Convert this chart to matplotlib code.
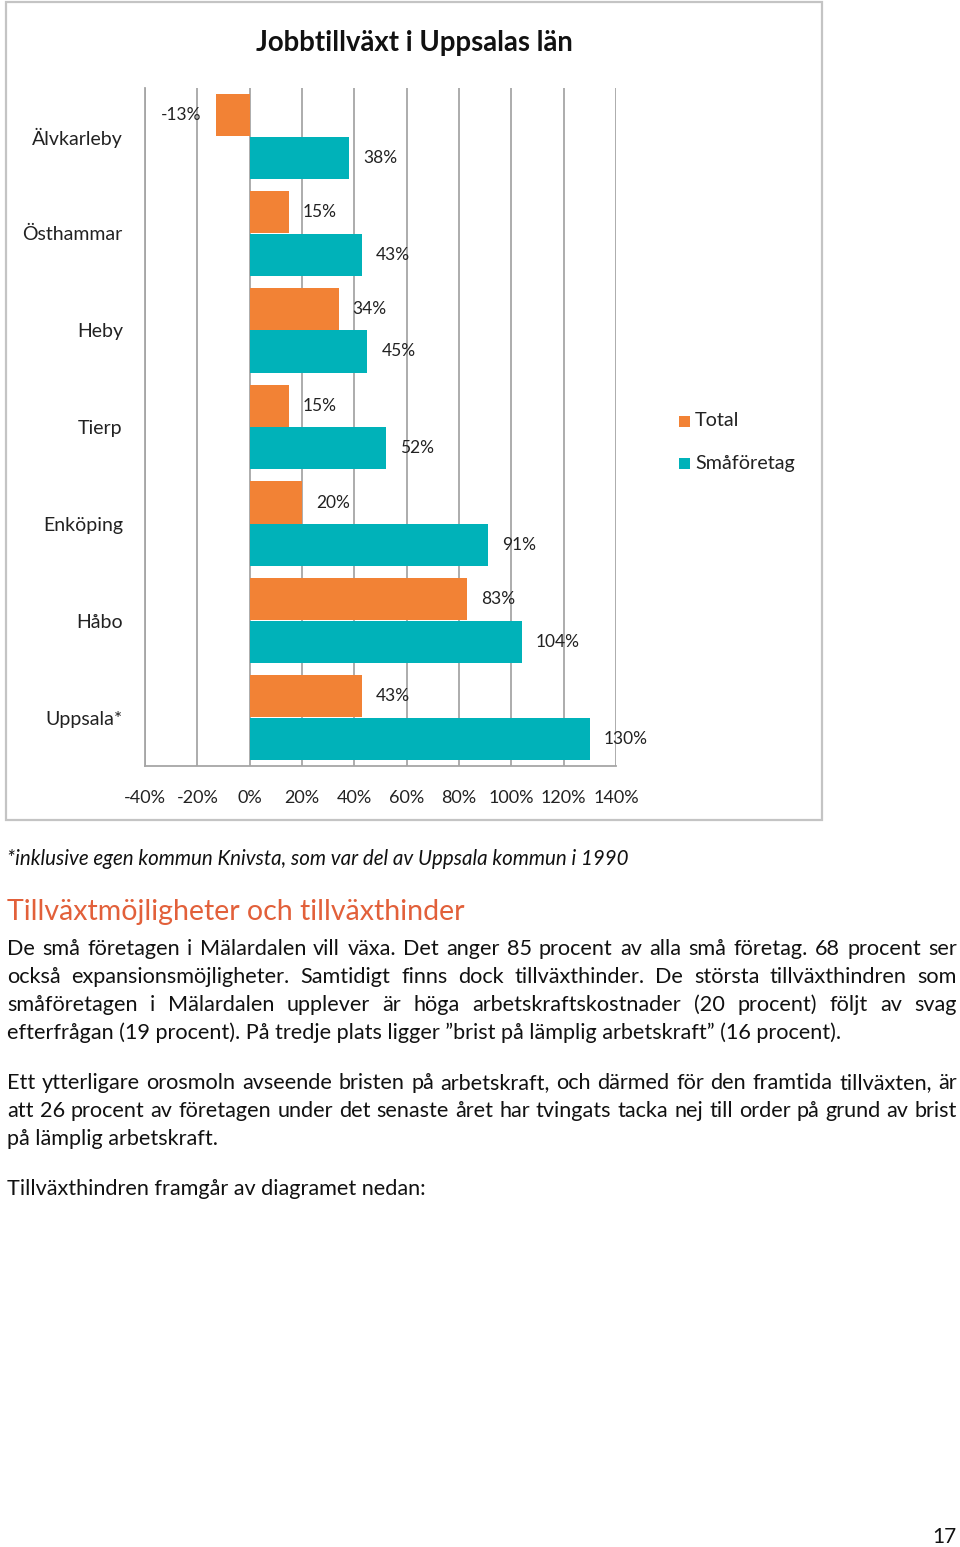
import matplotlib
matplotlib.use("Agg")
import matplotlib.pyplot as plt
from matplotlib.patches import Rectangle
from matplotlib.ticker import FixedLocator
import numpy as np

# chart data
kommuner = ["Älvkarleby", "Östhammar", "Heby", "Tierp", "Enköping", "Håbo", "Uppsala*"]
total = [-13, 15, 34, 15, 20, 83, 43]
smaforetag = [38, 43, 45, 52, 91, 104, 130]
x_ticks = [-40, -20, 0, 20, 40, 60, 80, 100, 120, 140]

title = "Jobbtillväxt i Uppsalas län"
footnote = "*inklusive egen kommun Knivsta, som var del av Uppsala kommun i 1990"
heading = "Tillväxtmöjligheter och tillväxthinder"
para1 = [
    "De små företagen i Mälardalen vill växa. Det anger 85 procent av alla små företag. 68 procent ser",
    "också expansionsmöjligheter. Samtidigt finns dock tillväxthinder. De största tillväxthindren som",
    "småföretagen i Mälardalen upplever är höga arbetskraftskostnader (20 procent) följt av svag",
    "efterfrågan (19 procent). På tredje plats ligger ”brist på lämplig arbetskraft” (16 procent).",
]
para2 = [
    "Ett ytterligare orosmoln avseende bristen på arbetskraft, och därmed för den framtida tillväxten, är",
    "att 26 procent av företagen under det senaste året har tvingats tacka nej till order på grund av brist",
    "på lämplig arbetskraft.",
]
para3 = ["Tillväxthindren framgår av diagramet nedan:"]

ORANGE = "#F28235"
TEAL = "#00B2B9"
W, H = 960, 1547
FONT = ["Lato", "DejaVu Sans"]
BODY = 15.6

plt.rcParams["font.family"] = FONT

fig = plt.figure(figsize=(W / 100, H / 100), dpi=100)


def fy(y):
    return 1 - y / H


def fx(x):
    return x / W


# outer chart frame
fig.patches.append(Rectangle((fx(6), fy(820)), fx(816), 818 / H, transform=fig.transFigure,
                             fill=False, edgecolor="#c4c4c4", linewidth=1.6))

ax = fig.add_axes([fx(145), fy(766), fx(616 - 145), (766 - 88) / H])
y = np.arange(len(kommuner))
h = 0.435
ax.barh(y - 0.22, total, height=h, color=ORANGE, zorder=3)
ax.barh(y + 0.22, smaforetag, height=h, color=TEAL, zorder=3)

ax.set_xlim(-40, 140)
ax.set_ylim(6.5, -0.5)
ax.xaxis.set_major_locator(FixedLocator(x_ticks))
ax.set_xticklabels([f"{t}%" for t in x_ticks], fontsize=13, color="#222222")
ax.set_yticks(y)
ax.set_yticklabels(kommuner, fontsize=14, color="#222222")
ax.tick_params(axis="both", length=0)
ax.tick_params(axis="x", pad=17)
ax.tick_params(axis="y", pad=16)
ax.grid(axis="x", color="#a6a6a6", linewidth=1.3, zorder=0)
for s in ["top", "right"]:
    ax.spines[s].set_visible(False)
for s in ["left", "bottom"]:
    ax.spines[s].set_color("#a6a6a6")
    ax.spines[s].set_linewidth(1.3)

# data labels
for i in range(len(kommuner)):
    for val, off in [(total[i], -0.22), (smaforetag[i], 0.22)]:
        if val < 0:
            ax.annotate(f"{val}%", (val, i + off), xytext=(-10, 0), textcoords="offset points",
                        ha="right", va="center", fontsize=12.5, color="#222222")
        else:
            ax.annotate(f"{val}%", (val, i + off), xytext=(10, 0), textcoords="offset points",
                        ha="left", va="center", fontsize=12.5, color="#222222")

# title
fig.text(fx(414), fy(43), title, ha="center", va="center", fontsize=19.8, fontweight="bold",
         color="#111111")

# legend
for lbl, col, yy in [("Total", ORANGE, 421), ("Småföretag", TEAL, 463)]:
    fig.patches.append(Rectangle((fx(679), fy(yy + 6)), fx(11), 11 / H, transform=fig.transFigure,
                                 facecolor=col, edgecolor="none"))
    fig.text(fx(695), fy(yy), lbl, ha="left", va="center", fontsize=14.2, color="#222222")

# page text
fig.text(fx(7), fy(865), footnote, ha="left", va="baseline", fontsize=14.8, style="italic",
         color="#111111")
fig.text(fx(7), fy(920), heading, ha="left", va="baseline", fontsize=20.5, color="#E2603A")

renderer = fig.canvas.get_renderer()


def justified(lines, y0, step, justify_last=False):
    for k, line in enumerate(lines):
        yy = fy(y0 + k * step + 6)
        last = k == len(lines) - 1
        if last and not justify_last:
            fig.text(fx(7), yy, line, ha="left", va="baseline", fontsize=BODY, color="#111111")
            continue
        words = line.split(" ")
        objs = [fig.text(0, yy, w, ha="left", va="baseline", fontsize=BODY, color="#111111")
                for w in words]
        widths = [o.get_window_extent(renderer).width for o in objs]
        gap = (957 - 7 - sum(widths)) / (len(words) - 1)
        x = 7
        for o, wd in zip(objs, widths):
            o.set_x(fx(x))
            x += wd + gap


justified(para1, 949, 28)
justified(para2, 1083, 28)
justified(para3, 1189, 28)

fig.text(fx(957), fy(1543), "17", ha="right", va="baseline", fontsize=15, color="#111111")

fig.savefig("out.png", dpi=100)
plt.close(fig)
